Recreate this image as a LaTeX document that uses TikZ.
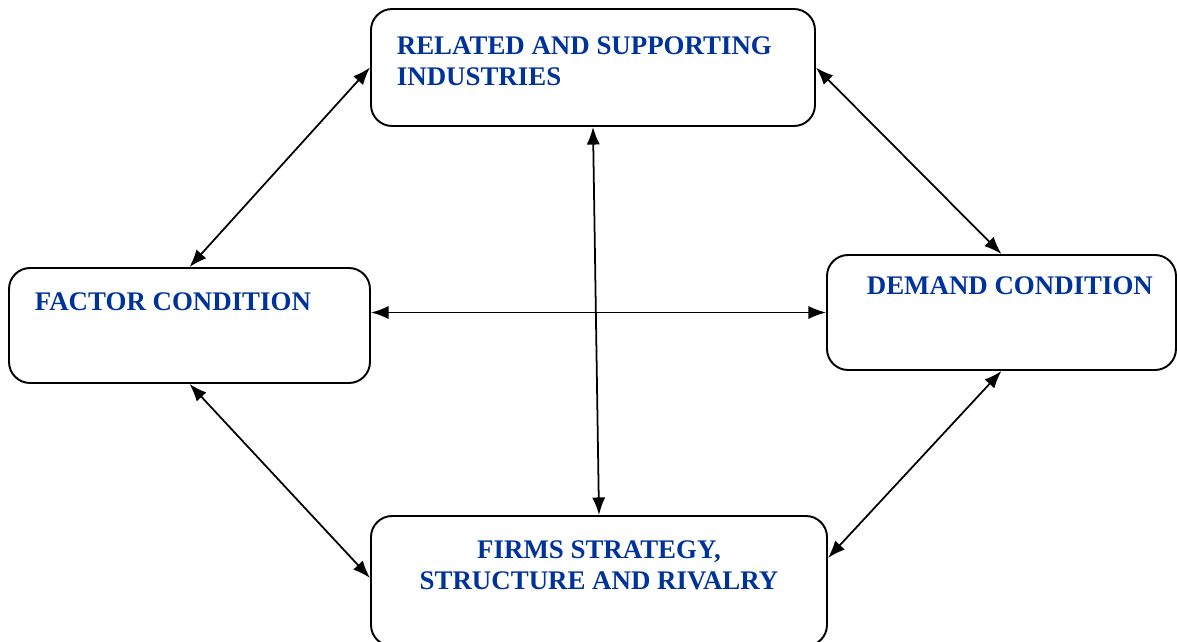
\documentclass[tikz,border=0pt]{standalone}
\usepackage{fontspec}
\setmainfont{Liberation Serif}
\usetikzlibrary{arrows.meta}
\definecolor{titleblue}{RGB}{0,51,153}
\begin{document}
\begin{tikzpicture}[{Latex[length=10pt,width=7.5pt]}-{Latex[length=10pt,width=7.5pt]}, line width=1pt]
  \tikzstyle{box}=[rectangle, draw, rounded corners=12pt, line width=1.1pt, fill=white, inner sep=0pt]
  \tikzstyle{label}=[inner sep=0pt, text=titleblue, font=\bfseries\fontsize{15.3}{17.6}\selectfont]

  \useasboundingbox (0, 0) rectangle (23.54, -12.84);

  \node[box, minimum width=8.88cm, minimum height=2.34cm] (related) at (11.86, -1.35) {};
  \node[box, minimum width=7.22cm, minimum height=2.30cm] (factor)  at (3.79, -6.51) {};
  \node[box, minimum width=6.98cm, minimum height=2.30cm] (demand)  at (20.03, -6.25) {};
  \node[box, minimum width=9.12cm, minimum height=2.60cm] (firms)   at (11.98, -11.62) {};

  \node[label, anchor=north west, align=left] (relatedtext) at (7.92, -0.71) {RELATED AND SUPPORTING\\INDUSTRIES};
  \node[label, anchor=base west] (factortext) at (0.68, -6.20) {FACTOR CONDITION};
  \node[label, anchor=base west] (demandtext) at (17.32, -5.88) {DEMAND CONDITION};
  \node[label, anchor=north, align=center] (firmstext) at (11.98, -10.80) {FIRMS STRATEGY,\\STRUCTURE AND RIVALRY};

  \draw (related.west) -- (factor.north);
  \draw (related.east) -- (demand.north);
  \draw (related.south) -- (firms.north);
  \draw (factor.east |- demand.west) -- (demand.west);
  \draw (factor.south) -- ([yshift=0.06cm]firms.west);
  \draw (demand.south) -- ([yshift=0.46cm]firms.east);
\end{tikzpicture}
\end{document}
